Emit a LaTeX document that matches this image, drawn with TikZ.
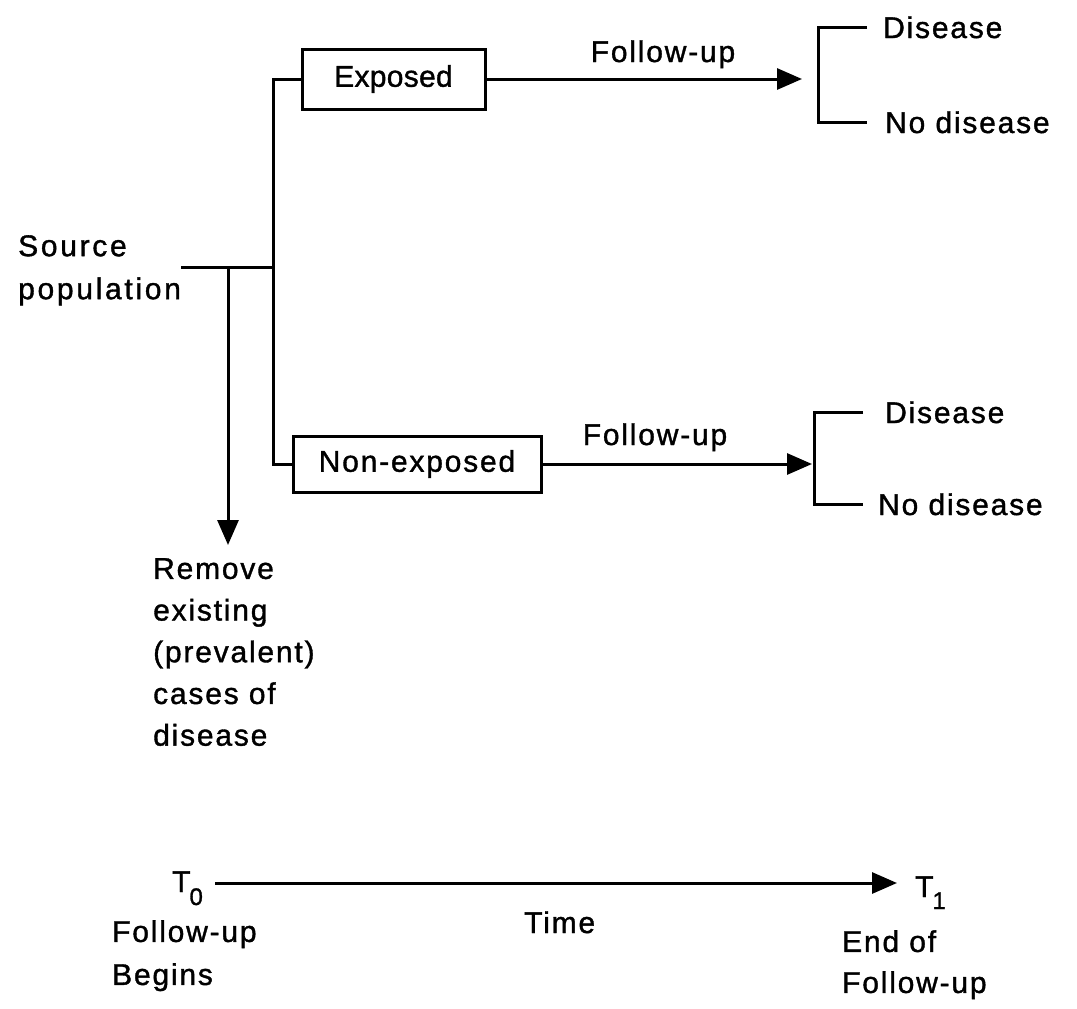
\documentclass[tikz,border=0pt]{standalone}
\usepackage{fontspec}
\setmainfont{Liberation Sans}[LetterSpace=6,FakeBold=1.2]
\newfontfamily\tightfont{Liberation Sans}[LetterSpace=1,FakeBold=1.2]
\newfontfamily\widefont{Liberation Sans}[LetterSpace=9,FakeBold=1.2]
\usetikzlibrary{arrows.meta}
\begin{document}
\begin{tikzpicture}[x=1pt,y=-1pt,
  lbl/.style={inner sep=0pt, font=\fontsize{30}{43}\selectfont, align=left},
  boxn/.style={draw, line width=3pt, inner sep=0pt, font=\fontsize{30}{36}\selectfont},
  ln/.style={line width=3pt},
  arr/.style={line width=3pt, -{Triangle[length=25pt,width=21pt]}}]
\useasboundingbox[fill=white] (0,0) rectangle (1077,1009);

% left part
\node[lbl, anchor=north west, font=\fontsize{30}{43}\widefont] (src) at (18,235) {Source\\population};
\node[boxn, minimum width=183pt, minimum height=60pt] (exp) at (393.5,79) {\tightfont Exposed};
\node[boxn, minimum width=248pt, minimum height=56pt] (nexp) at (417,464) {Non-exposed};
\coordinate (J1) at (228,267);
\coordinate (J2) at (273,267);
\draw[ln] (src.east |- J2) -- (J2);
\draw[ln] (exp.west) -| (J2) |- (nexp.west);

\node[lbl, anchor=north west, font=\fontsize{30}{41.7}\selectfont] (rm) at (153,558)
  {Remove\\existing\\(prevalent)\\cases of\\disease};
\draw[arr, shorten >=13pt] (J1) -- (J1 |- rm.north);

% top branch
\node[lbl, anchor=base] (f1) at (663,62) {Follow-up};
\coordinate (B1) at (818,79);
\draw[arr, shorten >=16pt] (exp.east) -- (B1);
\node[lbl, anchor=base west] (d1) at (883,38) {Disease};
\node[lbl, anchor=base west] (n1) at (885,133) {No disease};
\draw[ln] ([xshift=-16pt]d1.west) -| (B1) |- ([xshift=-18pt]n1.west);

% bottom branch
\node[lbl, anchor=base] (f2) at (655,445) {Follow-up};
\coordinate (B2) at (814,464);
\draw[arr, shorten >=2pt] (nexp.east) -- (B2);
\node[lbl, anchor=base west] (d2) at (885,423) {Disease};
\node[lbl, anchor=base west] (n2) at (878,515) {No disease};
\draw[ln] ([xshift=-22pt]d2.west) -| (B2) |- ([xshift=-15pt]n2.west);

% time axis
\node[lbl, anchor=base west] (t0) at (172,892) {T\kern-1pt\raisebox{-13pt}{\fontsize{24}{24}\selectfont 0}};
\node[lbl, anchor=base west] (t1) at (915,897) {T\kern-1pt\raisebox{-12pt}{\fontsize{24}{24}\selectfont 1}};
\coordinate (TL) at (0,883);
\draw[arr, shorten <=12pt, shorten >=18pt] (t0.east |- TL) -- (t1.west |- TL);
\node[lbl, anchor=north west] (b0) at (112,920) {Follow-up\\Begins};
\node[lbl, anchor=north west, font=\fontsize{30}{41}\selectfont] (e1) at (842,930) {End of\\Follow-up};
\node[lbl, anchor=base west] (tm) at (524,933) {Time};
\end{tikzpicture}
\end{document}
